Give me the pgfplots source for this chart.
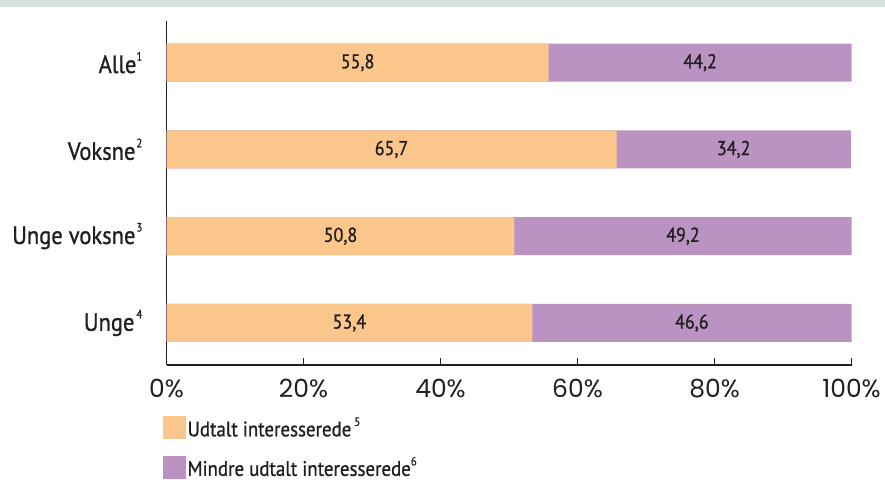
\documentclass[border=0pt]{standalone}
\usepackage{pgfplots}
\pgfplotsset{compat=1.18}
\usepackage{pgfplotstable}
\usepackage{fontspec}
\setmainfont[FakeStretch=0.9, FakeBold=1]{PT Sans}
\newfontfamily\tickfont{Poppins}
\definecolor{orng}{HTML}{FBC68B}
\definecolor{purp}{HTML}{BB93C3}
\definecolor{ink}{HTML}{231F20}
\definecolor{band}{HTML}{D7E1DD}
\newcommand\note[1]{\raisebox{0.5em}{\fontsize{12}{12}\selectfont #1}}

% andel i procent: udtalt (a) og mindre udtalt (b) interesserede
\pgfplotstableread{
pos a b
3 55.8 44.2
2 65.7 34.2
1 50.8 49.2
0 53.4 46.6
}\shares

\begin{document}
\begin{tikzpicture}[x=1pt,y=1pt]
\fill[band] (0,475) rectangle (885,482);
\begin{axis}[
  at={(166.5pt,117pt)}, anchor=south west,
  scale only axis, width=685pt, height=344pt,
  xmin=0, xmax=100, ymin=-0.485, ymax=3.48,
  axis x line*=bottom, axis y line*=left,
  axis line style={ink, line width=1.3pt, -},
  xtick={0,20,...,100},
  xticklabels={0\%,20\%,40\%,60\%,80\%,100\%},
  xtick style={ink, line width=1.3pt},
  tick align=inside, major tick length=7pt,
  xticklabel style={inner sep=0pt, anchor=north, yshift=-14pt,
    font=\tickfont\fontsize{25}{25}\selectfont, text=ink},
  ytick={0,1,2,3},
  yticklabels={Unge\kern2pt\note{4}, Unge voksne\kern1pt\note{3}, Voksne\kern1pt\note{2}, Alle\note{1}},
  ytick style={draw=none},
  yticklabel style={inner sep=0pt, anchor=east, xshift=-24pt,
    font=\fontsize{25}{25}\selectfont, text=ink},
  legend style={at={(-0.006,-0.146)}, anchor=north west, draw=none, fill=none,
    inner sep=0pt, font=\fontsize{21}{22}\selectfont, text=ink, row sep=15pt,
    cells={anchor=west}, /tikz/every even column/.append style={column sep=10pt}},
  legend cell align=left,
  legend image code/.code={\fill (0pt,-11.5pt) rectangle (23pt,11.5pt);},
  clip=false,
]
\addplot[xbar, bar width=38pt, bar shift=0pt, fill=purp, draw=none, forget plot]
  table[y=pos, x expr=\thisrow{a}+\thisrow{b}] {\shares};
\addplot[xbar, bar width=38pt, bar shift=0pt, fill=orng, draw=none, forget plot]
  table[y=pos, x=a] {\shares};
\addplot[draw=none, mark=none, forget plot, point meta=explicit,
  nodes near coords={\pgfmathprintnumber[fixed, fixed zerofill, precision=1, use comma, assume math mode=true]{\pgfplotspointmeta}},
  every node near coord/.append style={anchor=center, font=\fontsize{20}{20}\selectfont, text=ink}]
  table[y=pos, x expr=\thisrow{a}/2, meta=a] {\shares};
\addplot[draw=none, mark=none, forget plot, point meta=explicit,
  nodes near coords={\pgfmathprintnumber[fixed, fixed zerofill, precision=1, use comma, assume math mode=true]{\pgfplotspointmeta}},
  every node near coord/.append style={anchor=center, font=\fontsize{20}{20}\selectfont, text=ink}]
  table[y=pos, x expr=\thisrow{a}+\thisrow{b}/2, meta=b] {\shares};
\addlegendimage{fill=orng, draw=none}
\addlegendentry{Udtalt interesserede\kern3pt\note{5}}
\addlegendimage{fill=purp, draw=none}
\addlegendentry{Mindre udtalt interesserede\note{6}}
\end{axis}
\pgfresetboundingbox
\useasboundingbox (0,0) rectangle (885,482);
\end{tikzpicture}
\end{document}
